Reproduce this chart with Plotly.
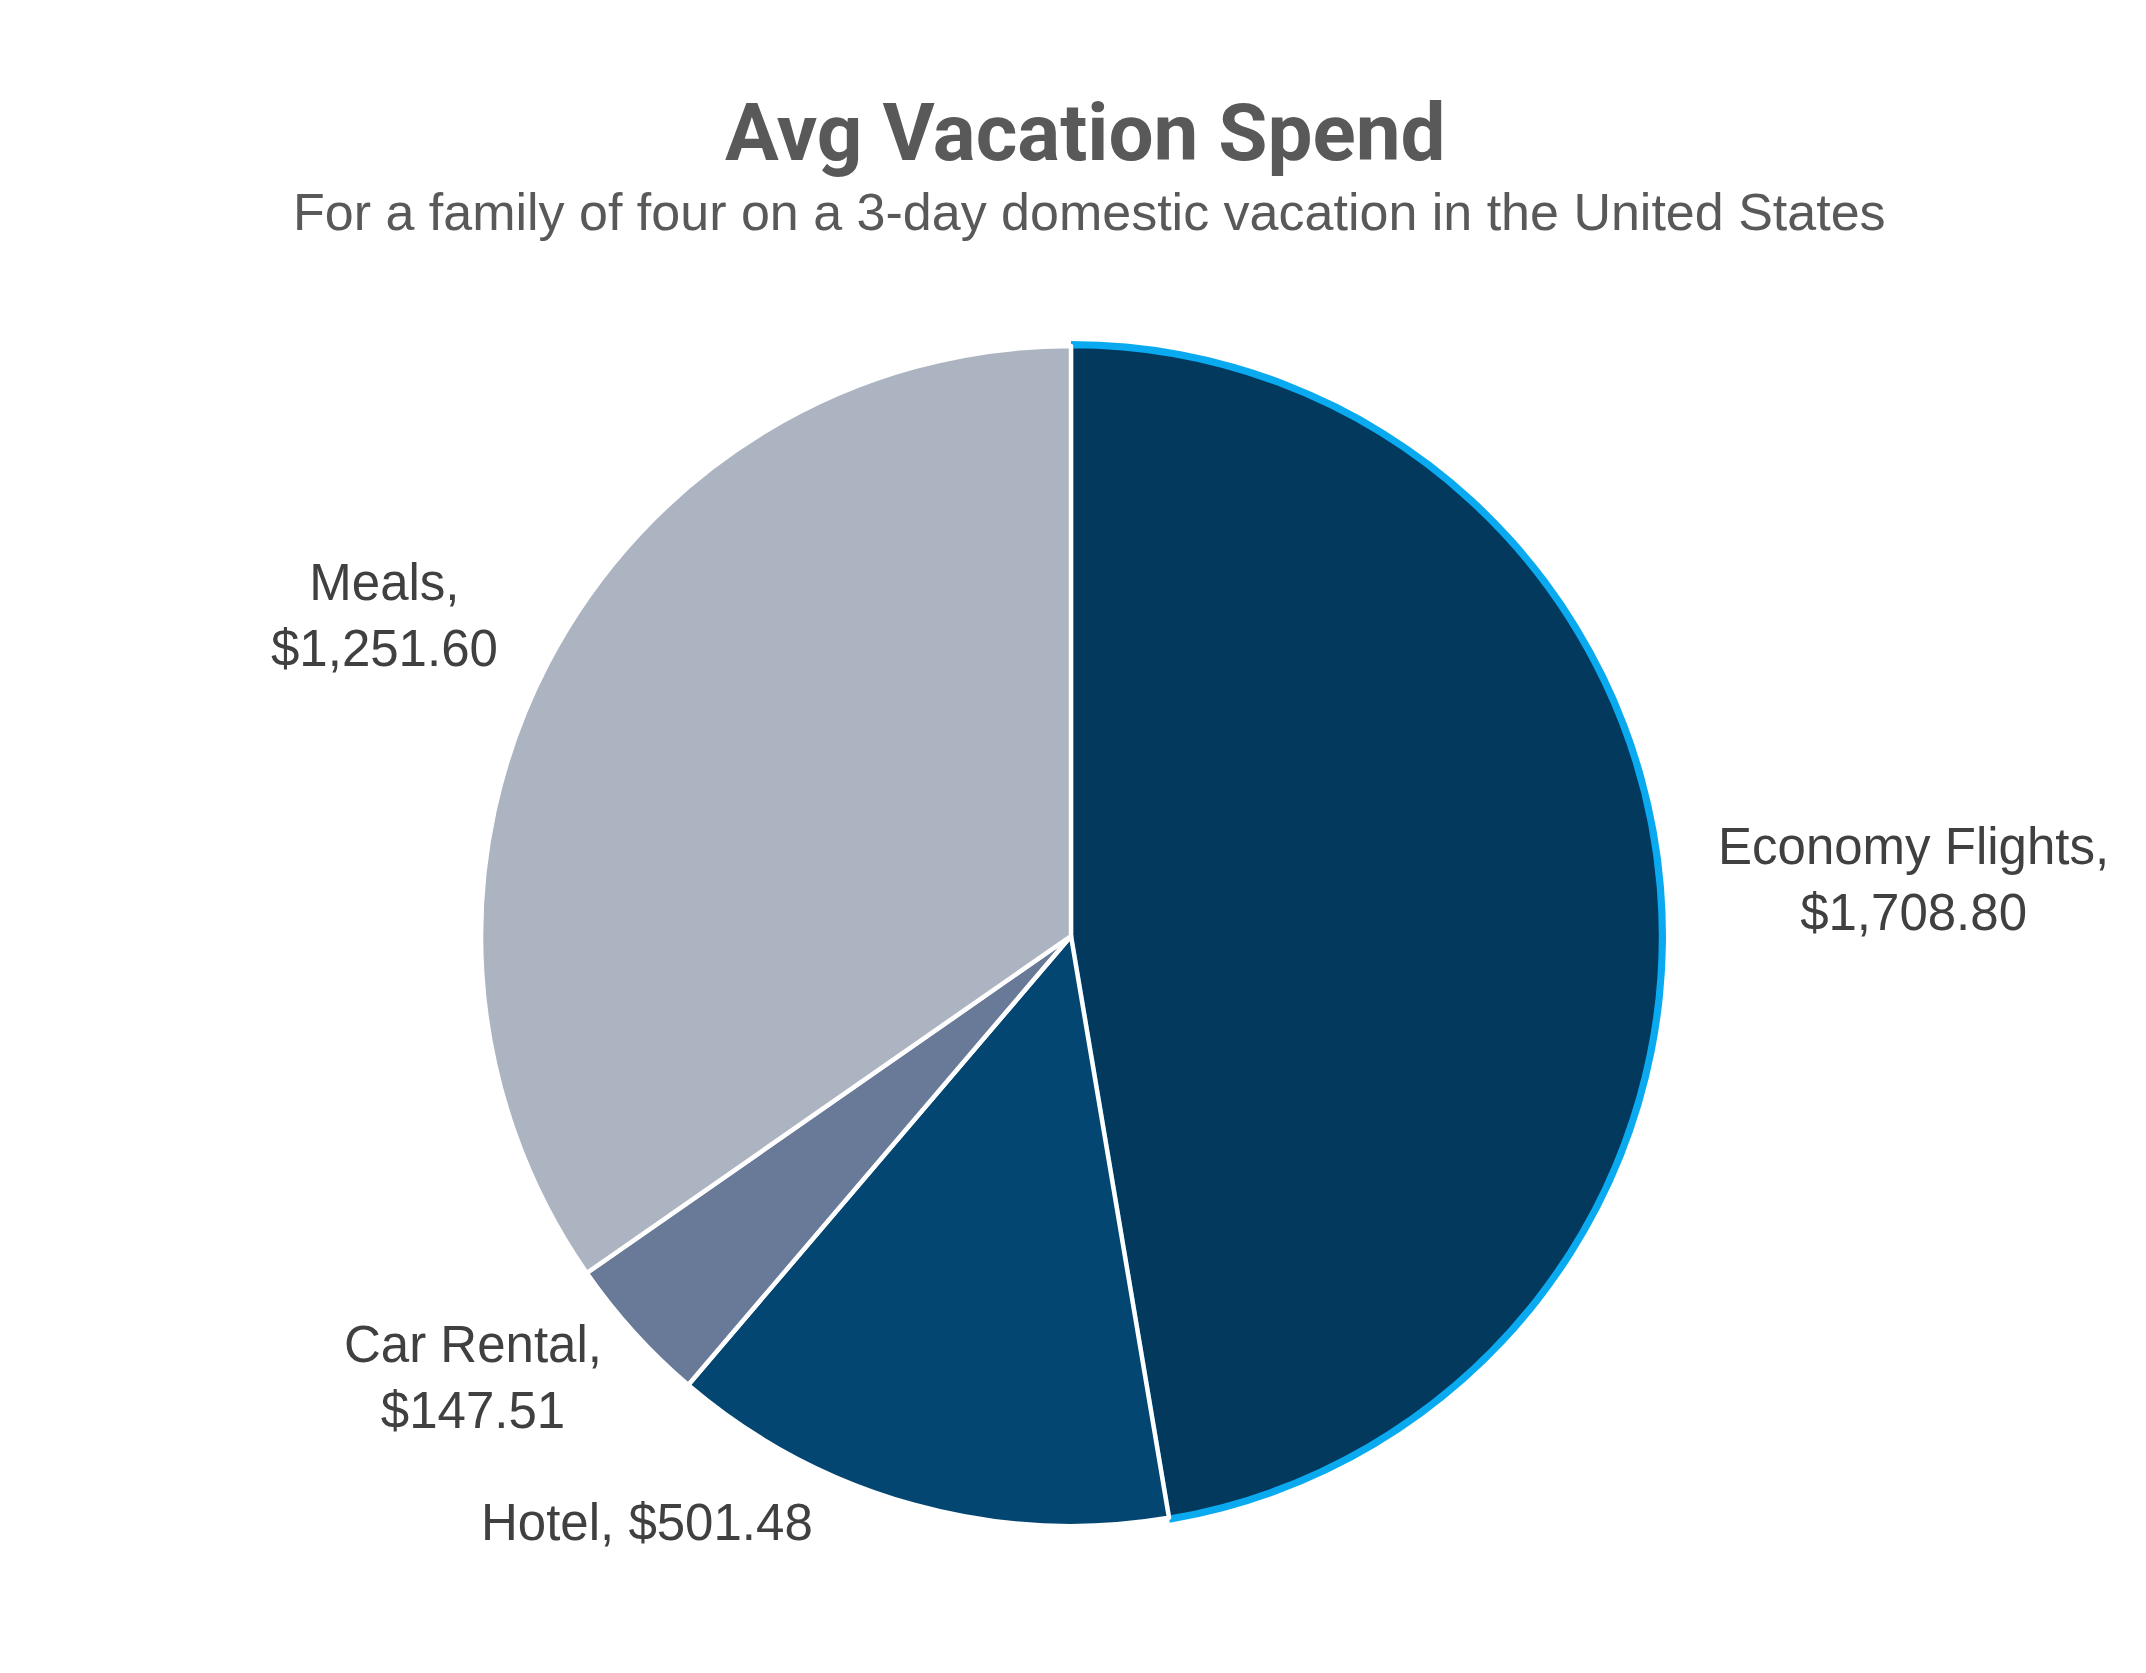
import plotly.graph_objects as go

categories = ["Economy Flights", "Hotel", "Car Rental", "Meals"]
values = [1708.80, 501.48, 147.51, 1251.60]
slice_colors = ["#04395E", "#044672", "#687A98", "#ADB4C1"]
edge_colors = ["#0AAAF0", "white", "white", "white"]
title = "Avg Vacation Spend"
subtitle = "For a family of four on a 3-day domestic vacation in the United States"

W, H = 2146, 1673
cx, cy, r = 1063, 928, 590

def dom(rad):
    return dict(x=[(cx - rad) / W, (cx + rad) / W],
                y=[(H - cy - rad) / H, (H - cy + rad) / H])

fig = go.Figure()
# highlight ring behind the first slice
fig.add_trace(go.Pie(
    labels=categories, values=values, sort=False, direction="clockwise",
    marker=dict(colors=["#0AAAF0", "rgba(0,0,0,0)", "rgba(0,0,0,0)", "rgba(0,0,0,0)"],
                line=dict(width=0)),
    textinfo="none", hoverinfo="skip", showlegend=False, domain=dom(r + 5)))
fig.add_trace(go.Pie(
    labels=categories, values=values, sort=False, direction="clockwise",
    marker=dict(colors=slice_colors, line=dict(color=edge_colors, width=4.5)),
    textinfo="none", showlegend=False, domain=dom(r)))

label_pos = [(1905, 872), (639, 1514), (465, 1369), (376, 607)]
seps = [",<br>", ", ", ",<br>", ",<br>"]
for cat, val, (px, py), sep in zip(categories, values, label_pos, seps):
    fig.add_annotation(x=px / W, y=1 - py / H, xref="paper", yref="paper",
                       text=f"{cat}{sep}${val:,.2f}", showarrow=False,
                       font=dict(family="Liberation Sans, Arial, sans-serif", size=51, color="#404040"),
                       align="center", xanchor="center", yanchor="middle")

fig.add_annotation(x=1077 / W, y=1 - 125 / H, xref="paper", yref="paper", text=f"<b>{title}</b>",
                   showarrow=False, font=dict(family="Roboto, sans-serif", size=80, color="#595959"),
                   xanchor="center", yanchor="middle")
fig.add_annotation(x=1081 / W, y=1 - 204 / H, xref="paper", yref="paper", text=subtitle,
                   showarrow=False, font=dict(family="Liberation Sans, Arial, sans-serif", size=52, color="#595959"),
                   xanchor="center", yanchor="middle")

fig.update_layout(width=W, height=H, margin=dict(l=0, r=0, t=0, b=0),
                  paper_bgcolor="white", plot_bgcolor="white")
fig.write_html("out.html")
